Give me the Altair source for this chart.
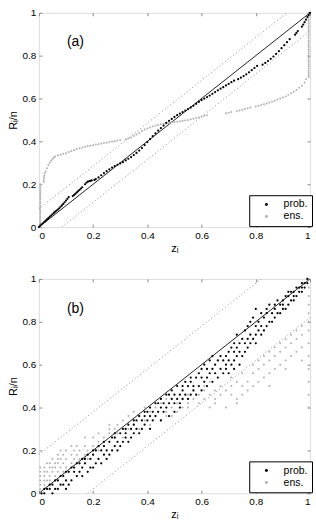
import altair as alt
import pandas as pd

FONT = "Liberation Sans"
TICKS = [0, 0.2, 0.4, 0.6, 0.8, 1]
SERIES = ["prob.", "ens."]
COLORS = ["#000000", "#b0b0b0"]

# ---------------- panel (a) ----------------
a_prob = [
    (0.000, 0.000), (0.005, 0.007), (0.010, 0.013), (0.015, 0.018), (0.020, 0.024), (0.025, 0.030),
    (0.030, 0.036), (0.035, 0.042), (0.040, 0.048), (0.045, 0.054), (0.050, 0.060), (0.055, 0.066),
    (0.060, 0.072), (0.065, 0.077), (0.070, 0.082), (0.075, 0.088), (0.080, 0.095), (0.085, 0.101),
    (0.090, 0.108), (0.095, 0.116), (0.100, 0.124), (0.105, 0.132), (0.110, 0.140),
    (0.125, 0.145), (0.130, 0.150), (0.135, 0.156), (0.140, 0.162), (0.145, 0.168), (0.150, 0.174),
    (0.155, 0.180), (0.160, 0.186),
    (0.170, 0.200), (0.175, 0.207), (0.180, 0.212), (0.185, 0.214), (0.190, 0.216), (0.195, 0.218),
    (0.205, 0.220), (0.210, 0.224), (0.220, 0.232), (0.230, 0.242), (0.240, 0.252), (0.250, 0.261),
    (0.260, 0.270), (0.270, 0.278), (0.280, 0.285), (0.290, 0.291), (0.300, 0.297), (0.310, 0.303),
    (0.320, 0.311), (0.330, 0.319), (0.340, 0.327), (0.350, 0.336), (0.360, 0.346), (0.370, 0.357),
    (0.380, 0.369), (0.390, 0.383), (0.400, 0.397), (0.410, 0.410), (0.420, 0.424), (0.430, 0.437),
    (0.440, 0.450), (0.450, 0.462), (0.460, 0.474), (0.470, 0.486), (0.480, 0.496), (0.490, 0.505),
    (0.500, 0.514), (0.510, 0.522), (0.520, 0.530), (0.530, 0.537), (0.540, 0.544), (0.550, 0.551),
    (0.560, 0.558), (0.570, 0.566), (0.580, 0.575), (0.590, 0.584), (0.600, 0.592), (0.610, 0.599),
    (0.620, 0.607), (0.630, 0.614), (0.640, 0.622), (0.650, 0.630), (0.660, 0.638), (0.670, 0.646),
    (0.680, 0.653), (0.690, 0.661), (0.700, 0.668), (0.710, 0.676), (0.720, 0.683),
    (0.735, 0.690), (0.745, 0.697), (0.755, 0.705), (0.765, 0.713), (0.775, 0.722), (0.785, 0.732),
    (0.795, 0.742), (0.805, 0.752),
    (0.825, 0.758), (0.835, 0.766), (0.845, 0.775), (0.855, 0.785), (0.865, 0.796), (0.875, 0.808),
    (0.885, 0.821), (0.895, 0.835), (0.905, 0.849), (0.915, 0.863), (0.925, 0.877),
    (0.945, 0.898), (0.950, 0.906), (0.955, 0.915),
    (0.970, 0.935), (0.975, 0.945), (0.980, 0.956), (0.985, 0.968), (0.990, 0.980), (0.995, 0.990),
    (1.000, 1.000),
]

a_ens_left_col = [0.00, 0.01, 0.02, 0.03, 0.04, 0.05, 0.06, 0.07, 0.08, 0.09, 0.10,
                  0.11, 0.12, 0.13, 0.14, 0.15, 0.16, 0.17, 0.18, 0.19, 0.20]
a_ens_right_col = [0.70, 0.71, 0.72, 0.73, 0.74, 0.75, 0.76, 0.77, 0.78, 0.79, 0.80,
                   0.81, 0.82, 0.83, 0.84, 0.85, 0.86, 0.87, 0.88, 0.89, 0.90,
                   0.91, 0.92, 0.93, 0.94, 0.95, 0.96, 0.97, 0.98, 0.99, 1.00]
a_ens_curve = [
    (0.018, 0.210), (0.018, 0.220), (0.019, 0.230), (0.020, 0.240), (0.021, 0.250),
    (0.025, 0.260), (0.030, 0.275), (0.035, 0.290), (0.040, 0.300), (0.045, 0.310), (0.050, 0.318),
    (0.055, 0.325), (0.060, 0.330), (0.070, 0.335), (0.080, 0.338), (0.090, 0.342), (0.100, 0.345),
    (0.110, 0.350), (0.120, 0.355), (0.130, 0.360), (0.140, 0.365), (0.150, 0.368), (0.160, 0.372),
    (0.170, 0.375), (0.180, 0.378), (0.190, 0.380), (0.200, 0.382), (0.210, 0.385), (0.220, 0.387),
    (0.230, 0.390), (0.240, 0.392), (0.250, 0.394), (0.260, 0.397), (0.270, 0.399), (0.280, 0.401),
    (0.290, 0.404), (0.300, 0.406), (0.320, 0.410), (0.330, 0.414), (0.340, 0.418), (0.350, 0.425),
    (0.360, 0.432), (0.370, 0.440), (0.380, 0.448), (0.390, 0.455), (0.400, 0.460), (0.410, 0.465),
    (0.420, 0.470), (0.430, 0.474), (0.440, 0.477), (0.450, 0.480), (0.460, 0.482), (0.470, 0.485),
    (0.480, 0.487), (0.490, 0.489), (0.500, 0.490), (0.510, 0.492), (0.520, 0.494), (0.530, 0.496),
    (0.540, 0.498), (0.550, 0.500), (0.560, 0.503), (0.570, 0.506), (0.580, 0.509), (0.590, 0.512),
    (0.600, 0.516), (0.610, 0.519), (0.620, 0.522),
    (0.690, 0.531), (0.700, 0.534), (0.710, 0.537),
    (0.730, 0.541), (0.740, 0.544), (0.750, 0.548), (0.760, 0.551), (0.770, 0.555), (0.780, 0.558),
    (0.800, 0.563), (0.810, 0.566), (0.820, 0.570), (0.830, 0.573), (0.840, 0.577), (0.850, 0.581),
    (0.860, 0.585), (0.870, 0.590), (0.880, 0.595), (0.890, 0.600), (0.900, 0.605), (0.910, 0.610),
    (0.920, 0.617), (0.930, 0.625), (0.940, 0.632), (0.950, 0.640), (0.960, 0.650), (0.970, 0.660),
    (0.980, 0.675), (0.985, 0.690),
]

a_upper_z, a_upper_r = [0.0, 0.915], [0.085, 1.0]
a_lower_z, a_lower_r = [0.085, 1.0], [0.0, 0.915]

# ---------------- panel (b) ----------------
b_prob = [
    (0.01, [0.00]), (0.02, [0.00, 0.02]), (0.03, [0.02]), (0.04, [0.02, 0.04]), (0.05, [0.00, 0.04]),
    (0.06, [0.02, 0.06]), (0.07, [0.02, 0.06]), (0.08, [0.04, 0.08]), (0.09, [0.04, 0.08]),
    (0.10, [0.02, 0.06, 0.10]), (0.11, [0.04, 0.10]), (0.12, [0.06, 0.12]),
    (0.13, [0.10, 0.12]), (0.14, [0.08, 0.14]), (0.15, [0.10, 0.14]), (0.16, [0.08, 0.12, 0.16]),
    (0.17, [0.14, 0.16]), (0.18, [0.10, 0.18]), (0.19, [0.12, 0.16]), (0.20, [0.12, 0.18, 0.20]),
    (0.21, [0.14, 0.20]), (0.22, [0.16, 0.22]), (0.23, [0.14, 0.20]), (0.24, [0.18, 0.22, 0.24]),
    (0.25, [0.16, 0.20]), (0.26, [0.18, 0.24]), (0.27, [0.20, 0.26]), (0.28, [0.22, 0.26, 0.28]),
    (0.29, [0.20, 0.24]), (0.30, [0.22, 0.28]), (0.31, [0.24, 0.30]), (0.32, [0.26, 0.28, 0.30]),
    (0.33, [0.24, 0.32]), (0.34, [0.26, 0.30]), (0.35, [0.28, 0.32, 0.34]), (0.36, [0.30, 0.34]),
    (0.37, [0.28, 0.36]), (0.38, [0.30, 0.34]), (0.39, [0.32, 0.36, 0.38]), (0.40, [0.34, 0.38]),
    (0.41, [0.30, 0.36, 0.40]), (0.42, [0.34, 0.38]), (0.43, [0.36, 0.42]), (0.44, [0.38, 0.42]),
    (0.45, [0.34, 0.40, 0.44]), (0.46, [0.38, 0.42]), (0.47, [0.40, 0.46]), (0.48, [0.36, 0.42, 0.46]),
    (0.49, [0.44, 0.48]), (0.50, [0.38, 0.42, 0.46]), (0.51, [0.44, 0.50]), (0.52, [0.40, 0.42, 0.46]),
    (0.53, [0.44, 0.48, 0.50]), (0.54, [0.46, 0.52]), (0.55, [0.44, 0.50]), (0.56, [0.46, 0.52, 0.54]),
    (0.57, [0.48, 0.50]), (0.58, [0.46, 0.54]), (0.59, [0.50, 0.56]), (0.60, [0.48, 0.54, 0.58]),
    (0.61, [0.52, 0.60]), (0.62, [0.50, 0.54, 0.58]), (0.63, [0.56, 0.62]), (0.64, [0.52, 0.58, 0.64]),
    (0.65, [0.56, 0.60]), (0.66, [0.54, 0.62]), (0.67, [0.58, 0.64]), (0.68, [0.56, 0.62]),
    (0.69, [0.58, 0.60, 0.64]), (0.70, [0.56, 0.62, 0.66]), (0.71, [0.60, 0.68]),
    (0.72, [0.58, 0.62, 0.66, 0.70]), (0.73, [0.64, 0.68, 0.74]), (0.74, [0.60, 0.66, 0.70]),
    (0.75, [0.64, 0.72]), (0.76, [0.66, 0.70, 0.76]), (0.77, [0.68, 0.72, 0.78]),
    (0.78, [0.70, 0.74, 0.80]), (0.79, [0.72, 0.82]), (0.80, [0.70, 0.74, 0.78, 0.86]),
    (0.81, [0.76, 0.80]), (0.82, [0.74, 0.78, 0.84]), (0.83, [0.76, 0.82]), (0.84, [0.78, 0.84, 0.86]),
    (0.85, [0.80, 0.88]), (0.86, [0.80, 0.84]), (0.87, [0.82, 0.86, 0.88]), (0.88, [0.84, 0.90]),
    (0.89, [0.84, 0.88]), (0.90, [0.86, 0.88, 0.90]), (0.91, [0.86, 0.92]), (0.92, [0.88, 0.92, 0.94]),
    (0.93, [0.90, 0.94]), (0.94, [0.90, 0.92, 0.94]), (0.95, [0.92, 0.96]), (0.96, [0.94, 0.96]),
    (0.97, [0.94, 0.96, 0.98]), (0.98, [0.96, 0.98]), (0.99, [0.98, 1.00]),
]

b_ens = [
    (0.005, [0.00, 0.02, 0.04, 0.06, 0.08, 0.10, 0.12]), (0.02, [0.04, 0.06, 0.08, 0.10, 0.12]),
    (0.03, [0.06, 0.10, 0.14]), (0.04, [0.06, 0.08, 0.12, 0.14]), (0.05, [0.10, 0.12, 0.16]),
    (0.06, [0.08, 0.12, 0.14]), (0.07, [0.10, 0.14, 0.16, 0.18]), (0.08, [0.12, 0.16, 0.20]),
    (0.09, [0.10, 0.14, 0.18]), (0.10, [0.12, 0.16, 0.20]), (0.12, [0.14, 0.18, 0.22]),
    (0.13, [0.16, 0.20]), (0.14, [0.14, 0.18, 0.22]), (0.15, [0.16, 0.20]), (0.17, [0.18, 0.22, 0.26]),
    (0.18, [0.16, 0.20]), (0.20, [0.18, 0.22, 0.26]), (0.22, [0.20, 0.24, 0.28]), (0.24, [0.22, 0.26]),
    (0.26, [0.28, 0.30, 0.32]), (0.28, [0.26, 0.30]), (0.29, [0.28, 0.32]), (0.31, [0.26, 0.34]),
    (0.33, [0.30, 0.36]), (0.35, [0.28, 0.32, 0.38]), (0.37, [0.30, 0.36]), (0.39, [0.34, 0.40]),
    (0.41, [0.32, 0.38]), (0.43, [0.36, 0.40]), (0.45, [0.34, 0.42]), (0.47, [0.36, 0.38, 0.44]),
    (0.49, [0.36, 0.40]), (0.51, [0.38, 0.42]), (0.53, [0.40, 0.44]), (0.55, [0.40, 0.42, 0.46]),
    (0.57, [0.44, 0.48]), (0.59, [0.42, 0.46]), (0.61, [0.44, 0.48, 0.50]), (0.63, [0.40, 0.46, 0.52]),
    (0.65, [0.42, 0.44, 0.48]), (0.67, [0.46, 0.50]), (0.69, [0.40, 0.48]), (0.71, [0.46, 0.50, 0.54]),
    (0.73, [0.42, 0.44, 0.52]), (0.75, [0.46, 0.50, 0.56]), (0.77, [0.48, 0.52]), (0.79, [0.50, 0.56, 0.60]),
    (0.81, [0.52, 0.58, 0.62]), (0.83, [0.54, 0.60, 0.64]), (0.85, [0.50, 0.56, 0.62, 0.66]),
    (0.87, [0.58, 0.64, 0.68]), (0.89, [0.60, 0.66, 0.70]), (0.91, [0.58, 0.62, 0.68, 0.72]),
    (0.93, [0.64, 0.70, 0.74]), (0.95, [0.66, 0.72, 0.76]), (0.97, [0.62, 0.68, 0.74, 0.78]),
    (0.995, [0.40, 0.46, 0.52, 0.58, 0.64, 0.70, 0.76, 0.80, 0.84, 0.88, 0.92, 0.96, 1.00]),
]

b_upper_z, b_upper_r = [0.0, 0.82], [0.18, 1.0]
b_lower_z, b_lower_r = [0.18, 1.0], [0.0, 0.82]

diag_z, diag_r = [0.0, 1.0], [0.0, 1.0]
label_z, label_r = [0.135], [0.862]


def axes():
    x = alt.X("z:Q", scale=alt.Scale(domain=[0, 1], nice=False),
              axis=alt.Axis(values=TICKS, format="~g", title="zᵢ", offset=-3, tickSize=3,
                            domain=False, grid=False, labelPadding=3, titlePadding=2,
                            titleFontWeight="normal"))
    y = alt.Y("r:Q", scale=alt.Scale(domain=[0, 1], nice=False),
              axis=alt.Axis(values=TICKS, format="~g", title="Rᵢ/n", offset=-3, tickSize=3,
                            domain=False, grid=False, labelPadding=3, titlePadding=4,
                            titleFontWeight="normal"))
    return x, y


def panel(prob_rows, ens_rows, upper, lower, label, sizes):
    pts = pd.DataFrame(ens_rows + prob_rows, columns=["z", "r", "series"])
    x, y = axes()
    base_line = dict(x=x, y=y)

    up = alt.Chart(pd.DataFrame({"z": upper[0], "r": upper[1]})).mark_line(
        color="#8a8a8a", strokeWidth=1, strokeDash=[1, 2.5]).encode(**base_line)
    lo = alt.Chart(pd.DataFrame({"z": lower[0], "r": lower[1]})).mark_line(
        color="#8a8a8a", strokeWidth=1, strokeDash=[1, 2.5]).encode(**base_line)
    dg = alt.Chart(pd.DataFrame({"z": diag_z, "r": diag_r})).mark_line(
        color="#222222", strokeWidth=1).encode(**base_line)
    sc = alt.Chart(pts).mark_circle(opacity=1).encode(
        x=x, y=y,
        color=alt.Color("series:N", scale=alt.Scale(domain=SERIES, range=COLORS), title=None,
                        legend=alt.Legend(orient="none", legendX=211, legendY=183,
                                          strokeColor="black", fillColor="white", padding=4,
                                          symbolType="circle", symbolSize=9, symbolOffset=8,
                                          labelOffset=12, rowPadding=1, labelFontSize=10.5,
                                          labelFont=FONT, cornerRadius=0)),
        size=alt.Size("series:N", scale=alt.Scale(domain=SERIES, range=sizes), legend=None),
        order=alt.Order("ord:Q"),
    ).transform_calculate(ord="datum.series == 'prob.' ? 1 : 0")
    tx = alt.Chart(pd.DataFrame({"z": label_z, "r": label_r, "t": [label]})).mark_text(
        font=FONT, fontSize=14, color="black").encode(x=x, y=y, text="t:N")

    inner = alt.layer(up, lo, dg, sc, tx)
    frame = alt.Chart(pd.DataFrame({"z": diag_z, "r": diag_r})).mark_point(opacity=0).encode(
        x=alt.X("z:Q", scale=alt.Scale(domain=[0, 1], nice=False),
                axis=alt.Axis(orient="top", values=TICKS, labels=False, title=None, offset=-3,
                              tickSize=3, domain=False, grid=False)),
        y=alt.Y("r:Q", scale=alt.Scale(domain=[0, 1], nice=False),
                axis=alt.Axis(orient="right", values=TICKS, labels=False, title=None, offset=-3,
                              tickSize=3, domain=False, grid=False)),
    )
    return alt.layer(inner, frame).resolve_axis(x="independent", y="independent").properties(
        width=272, height=215)


a_rows_prob = [(z, r, "prob.") for z, r in a_prob]
a_rows_ens = ([(0.005, r, "ens.") for r in a_ens_left_col]
              + [(z, r, "ens.") for z, r in a_ens_curve]
              + [(0.995, r, "ens.") for r in a_ens_right_col])
b_rows_prob = [(z, r, "prob.") for z, rs in b_prob for r in rs]
b_rows_ens = [(z, r, "ens.") for z, rs in b_ens for r in rs]

pa = panel(a_rows_prob, a_rows_ens, (a_upper_z, a_upper_r), (a_lower_z, a_lower_r), "(a)", [5, 4])
pb = panel(b_rows_prob, b_rows_ens, (b_upper_z, b_upper_r), (b_lower_z, b_lower_r), "(b)", [6, 3])

chart = alt.vconcat(pa, pb, spacing=19).resolve_legend(color="independent").properties(
    padding={"left": 6, "top": 6, "right": 2, "bottom": 2}
).configure_view(stroke="black", strokeWidth=1).configure_axis(
    labelFont=FONT, labelFontSize=11, labelColor="black", titleFont=FONT, titleFontSize=11,
    titleFontWeight="normal", titleColor="black", tickColor="black"
).configure(background="white")

chart.save("out.html", embed_options={"renderer": "svg", "actions": False})
